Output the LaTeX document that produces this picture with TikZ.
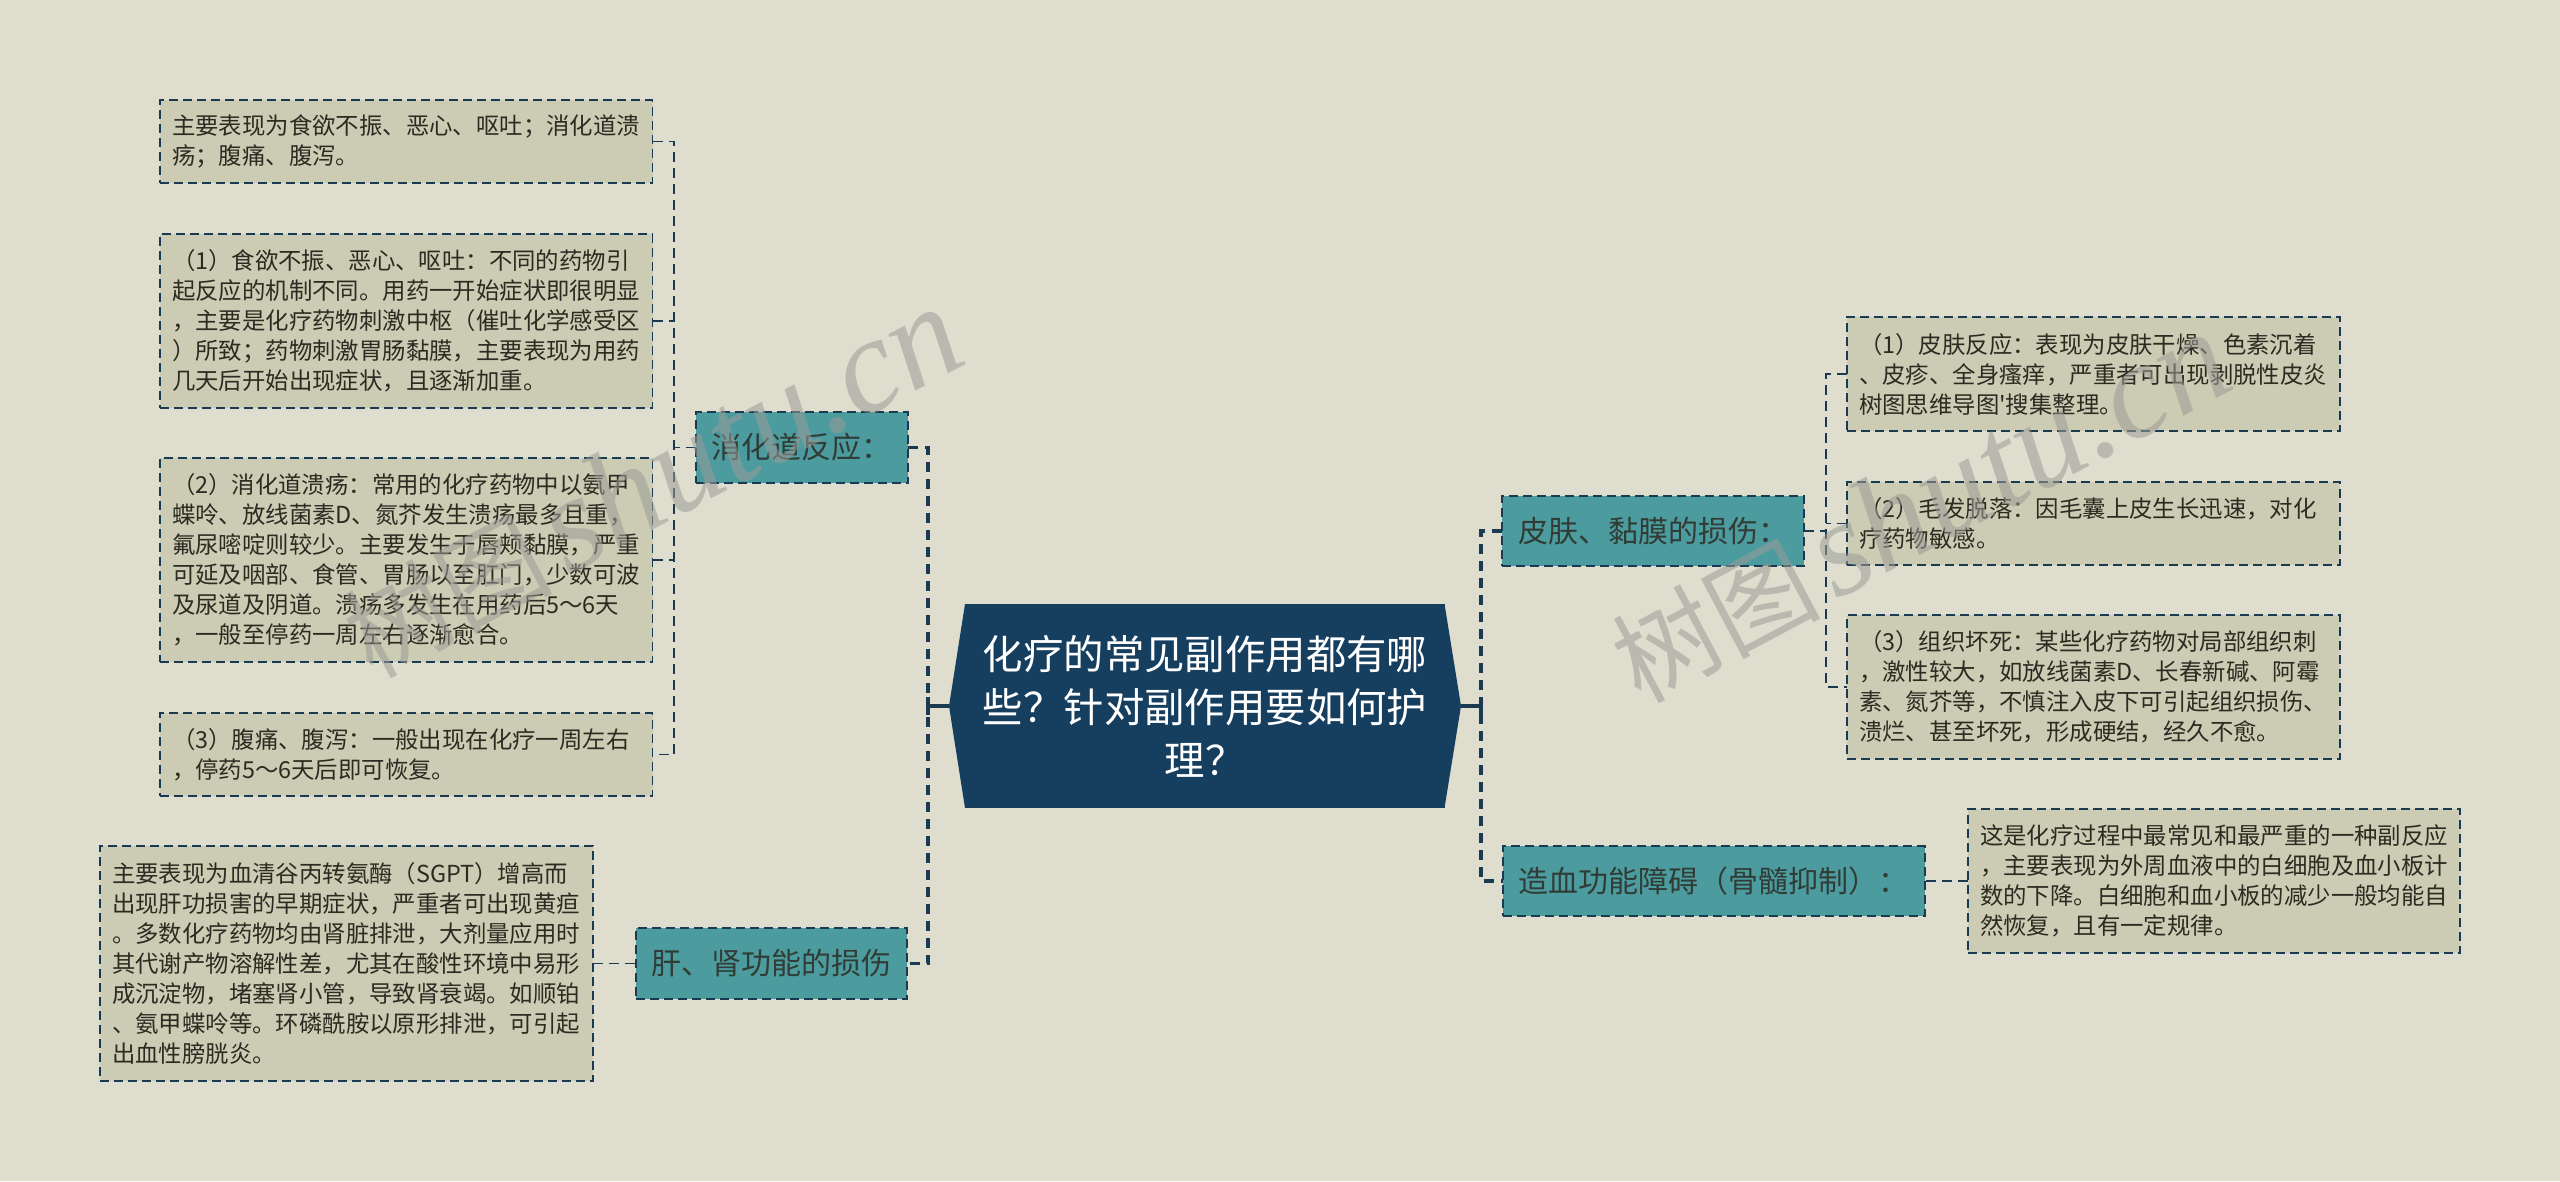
\documentclass[tikz,border=0pt]{standalone}
\usepackage{fontspec}
\setmainfont{Noto Sans CJK SC}
\newfontfamily\wmlatin{Liberation Serif}
\newfontfamily\rawcjk{Noto Sans CJK SC}
\newcommand{\smallfs}{\fontsize{23.4}{30}\selectfont}
\newcommand{\wmtext}{{\fontsize{104}{104}\selectfont 树图}\hspace{14pt}{\fontsize{136}{136}\selectfont\wmlatin\itshape shutu.cn}}
\definecolor{bgc}{HTML}{DEDDCE}
\definecolor{boxc}{HTML}{CCCBB3}
\definecolor{tealc}{HTML}{4C9B9F}
\definecolor{navyc}{HTML}{163E5F}
\definecolor{linec}{HTML}{1A3A52}
\definecolor{txtc}{HTML}{2B2B22}
\tikzset{
  x=1pt,y=-1pt,
  detail/.style={draw=linec,line width=1.8pt,dash pattern=on 9pt off 5pt,fill=boxc,
    anchor=north west,inner sep=0pt,outer sep=0pt,align=left,text=txtc,font=\smallfs},
  topicbox/.style={draw=linec,line width=2pt,dash pattern=on 9pt off 5pt,fill=tealc,
    anchor=north west,inner sep=0pt,outer sep=0pt,align=center,text=txtc!85!tealc,
    font=\fontsize{30}{36}\selectfont},
  conn/.style={draw=linec,line width=1.8pt,dash pattern=on 10pt off 6pt},
  spine/.style={draw=linec,line width=3.2pt,dash pattern=on 10pt off 7pt},
  stub/.style={draw=linec,line width=3.2pt},
  wm/.style={text=gray!70!bgc,opacity=.55,rotate=28,anchor=base west,inner sep=0pt}
}
\newcommand{\dbox}[7]{% name, x1, y1, x2, y2, pad, text
  \node[detail,minimum width={#4-#2},minimum height={#5-#3},text width={#4-#2-2*#6}] (#1) at (#2,#3) {#7};}
\newcommand{\tbox}[6]{%
  \node[topicbox,minimum width={#4-#2},minimum height={#5-#3}] (#1) at (#2,#3) {#6};}
\begin{document}
\begin{tikzpicture}
\path[fill=bgc] (0,0) rectangle (2560,1181);
\useasboundingbox (0,0) rectangle (2560,1181);

\node[fill=navyc,draw=none,inner sep=0pt,text width=470pt,align=center,text=white,
  font=\fontsize{40.4}{53}\selectfont,anchor=center,minimum height=204pt,minimum width=480pt] (root) at (1205,706)
  {化疗的常见副作用都有哪\\些？针对副作用要如何护\\理？};
\fill[navyc] (965,604) -- (949,706) -- (965,808) -- cycle;
\fill[navyc] (1444.5,604) -- (1461,706) -- (1444.5,808) -- cycle;
\coordinate (rootL) at (949,706);
\coordinate (rootR) at (1461,706);

\tbox{t1}{695.5}{412}{908}{483}{消化道反应：}
\tbox{t2}{636}{928}{907}{999}{肝、肾功能的损伤}
\tbox{t3}{1502}{496}{1804}{566}{皮肤、黏膜的损伤：}
\tbox{t4}{1503}{846}{1924.5}{916}{造血功能障碍（骨髓抑制）：}

\dbox{a1}{160}{100}{652.5}{183}{12}{主要表现为食欲不振、恶心、呕吐；消化道溃\\疡；腹痛、腹泻。}
\dbox{a2}{160}{234}{652.5}{408}{12}{（1）食欲不振、恶心、呕吐：不同的药物引\\起反应的机制不同。用药一开始症状即很明显\\，主要是化疗药物刺激中枢（催吐化学感受区\\）所致；药物刺激胃肠黏膜，主要表现为用药\\几天后开始出现症状，且逐渐加重。}
\dbox{a3}{160}{458}{652.5}{662}{12}{（2）消化道溃疡：常用的化疗药物中以氨甲\\蝶呤、放线菌素D、氮芥发生溃疡最多且重，\\氟尿嘧啶则较少。主要发生于唇颊黏膜，严重\\可延及咽部、食管、胃肠以至肛门，少数可波\\及尿道及阴道。溃疡多发生在用药后5～6天\\，一般至停药一周左右逐渐愈合。}
\dbox{a4}{160}{713}{652.5}{796}{12}{（3）腹痛、腹泻：一般出现在化疗一周左右\\，停药5～6天后即可恢复。}
\dbox{b1}{100}{846}{593}{1081}{12}{主要表现为血清谷丙转氨酶（SGPT）增高而\\出现肝功损害的早期症状，严重者可出现黄疸\\。多数化疗药物均由肾脏排泄，大剂量应用时\\其代谢产物溶解性差，尤其在酸性环境中易形\\成沉淀物，堵塞肾小管，导致肾衰竭。如顺铂\\、氨甲蝶呤等。环磷酰胺以原形排泄，可引起\\出血性膀胱炎。}
\dbox{c1}{1847}{317}{2340}{431}{12}{（1）皮肤反应：表现为皮肤干燥、色素沉着\\、皮疹、全身瘙痒，严重者可出现剥脱性皮炎\\树图思维导图{\rawcjk'}搜集整理。}
\dbox{c2}{1847}{482}{2340}{565}{12}{（2）毛发脱落：因毛囊上皮生长迅速，对化\\疗药物敏感。}
\dbox{c3}{1847}{615}{2340}{759}{12}{（3）组织坏死：某些化疗药物对局部组织刺\\，激性较大，如放线菌素D、长春新碱、阿霉\\素、氮芥等，不慎注入皮下可引起组织损伤、\\溃烂、甚至坏死，形成硬结，经久不愈。}
\dbox{d1}{1968}{809}{2460}{953}{12}{这是化疗过程中最常见和最严重的一种副反应\\，主要表现为外周血液中的白细胞及血小板计\\数的下降。白细胞和血小板的减少一般均能自\\然恢复，且有一定规律。}

\coordinate (sL) at (928,706);
\coordinate (sR) at (1481,706);
\draw[stub] (rootL) -- (sL) (928,697) -- (928,715);
\draw[stub] (rootR) -- (sR) (1481,697) -- (1481,715);
\draw[spine] (t1.east) -- (928,447.5) -- (928,963.5) -- (t2.east);
\draw[spine] (t3.west) -- (1481,531) -- (1481,881) -- (t4.west);

\draw[conn] (a1.east) -- (674,141.5) -- (674,754.5) -- (a4.east);
\draw[conn] (a2.east) -- (674,321);
\draw[conn] (a3.east) -- (674,560);
\draw[conn] (t1.west) -- (674,447.5);
\draw[conn] (b1.east) -- (t2.west);

\draw[conn] (c1.west) -- (1826,374) -- (1826,687) -- (c3.west);
\draw[conn] (c2.west) -- (1826,523.5);
\draw[conn] (t3.east) -- (1826,531);
\draw[conn] (d1.west) -- (t4.east);

\node[wm] (w1) at (372,680) {\wmtext};
\node[wm] (w2) at (1640,705) {\wmtext};
\end{tikzpicture}
\end{document}
